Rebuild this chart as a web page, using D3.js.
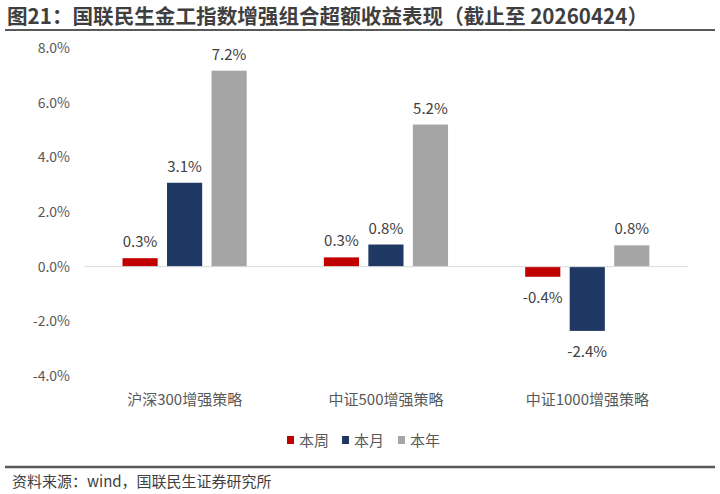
<!DOCTYPE html>
<html>
<head>
<meta charset="utf-8">
<script src="https://cdn.jsdelivr.net/npm/d3@7"></script>
<style>
  body { margin: 0; background: #fff; }
  text { font-family: "Noto Sans CJK SC", "Noto Sans", sans-serif; }
</style>
</head>
<body>
<div id="chart"></div>
<script>
var width = 720;
var height = 494;

// data (percent)
var categories = ['沪深300增强策略', '中证500增强策略', '中证1000增强策略'];
var seriesNames = ['本周', '本月', '本年'];
var weekValues = [0.31, 0.34, -0.37];
var monthValues = [3.07, 0.81, -2.35];
var yearValues = [7.17, 5.2, 0.78];
var yTicks = [-4, -2, 0, 2, 4, 6, 8];
var colors = ['#C00000', '#203864', '#A5A5A5'];

var title = '图21：国联民生金工指数增强组合超额收益表现（截止至 20260424）';
var source = '资料来源：wind，国联民生证券研究所';

var rows = categories.map(function(c, i) {
  return { cat: c, values: [weekValues[i], monthValues[i], yearValues[i]] };
});

var svg = d3.select('#chart').append('svg')
  .attr('width', width).attr('height', height);

// title + rule lines
svg.append('text').attr('x', 7).attr('y', 24)
  .attr('font-size', 20.6).attr('font-weight', 'bold').attr('fill', '#3F3F3F')
  .text(title);
svg.append('line').attr('x1', 5).attr('x2', 715).attr('y1', 30).attr('y2', 30)
  .attr('stroke', '#595959').attr('stroke-width', 2);
svg.append('line').attr('x1', 5).attr('x2', 715).attr('y1', 467).attr('y2', 467)
  .attr('stroke', '#595959').attr('stroke-width', 2.5);
svg.append('text').attr('x', 12).attr('y', 487)
  .attr('font-size', 15).attr('fill', '#404040')
  .text(source);

var y = d3.scaleLinear().domain([-4, 8]).range([376, 48]);
var x0 = d3.scaleBand().domain(categories).range([84, 688]);
var x1 = d3.scaleBand().domain(d3.range(3)).range([38.5, 162.7]).paddingInner(0.21);

// y axis labels only
var yAxis = svg.append('g').attr('transform', 'translate(70,0)')
  .call(d3.axisLeft(y).tickValues(yTicks).tickSize(0).tickPadding(0)
    .tickFormat(function(d) { return d.toFixed(1) + '%'; }));
yAxis.select('.domain').remove();
yAxis.selectAll('text').attr('font-size', 14).attr('fill', '#595959')
  .attr('font-family', '"Noto Sans CJK SC", "Noto Sans", sans-serif');

// category labels
var xAxis = svg.append('g').attr('transform', 'translate(0,394)')
  .call(d3.axisBottom(x0).tickSize(0).tickPadding(0));
xAxis.select('.domain').remove();
xAxis.selectAll('text').attr('font-size', 15).attr('fill', '#595959')
  .attr('font-family', '"Noto Sans CJK SC", "Noto Sans", sans-serif');

var groups = svg.selectAll('g.grp').data(rows).enter().append('g')
  .attr('class', 'grp')
  .attr('transform', function(d) { return 'translate(' + x0(d.cat) + ',0)'; });

groups.selectAll('rect').data(function(d) { return d.values; }).enter().append('rect')
  .attr('x', function(d, i) { return x1(i); })
  .attr('width', x1.bandwidth())
  .attr('y', function(d) { return y(Math.max(0, d)); })
  .attr('height', function(d) { return Math.abs(y(d) - y(0)); })
  .attr('fill', function(d, i) { return colors[i]; });

groups.selectAll('text.lbl').data(function(d) { return d.values; }).enter().append('text')
  .attr('class', 'lbl')
  .attr('x', function(d, i) { return x1(i) + x1.bandwidth() / 2; })
  .attr('y', function(d) { return d >= 0 ? y(d) - 11 : y(d) + 26; })
  .attr('text-anchor', 'middle')
  .attr('font-size', 15).attr('fill', '#404040')
  .text(function(d) { return d.toFixed(1) + '%'; });

// zero line
svg.append('line').attr('x1', 84).attr('x2', 688)
  .attr('y1', y(0)).attr('y2', y(0))
  .attr('stroke', '#D9D9D9').attr('stroke-width', 1);

// legend
var legendX = [287, 342, 398];
var legend = svg.selectAll('g.leg').data(seriesNames).enter().append('g')
  .attr('class', 'leg')
  .attr('transform', function(d, i) { return 'translate(' + legendX[i] + ',440)'; });
legend.append('rect').attr('x', 0).attr('y', -4).attr('width', 7).attr('height', 8)
  .attr('fill', function(d, i) { return colors[i]; });
legend.append('text').attr('x', 12).attr('y', 5.5)
  .attr('font-size', 15).attr('fill', '#595959')
  .text(function(d) { return d; });
</script>
</body>
</html>
